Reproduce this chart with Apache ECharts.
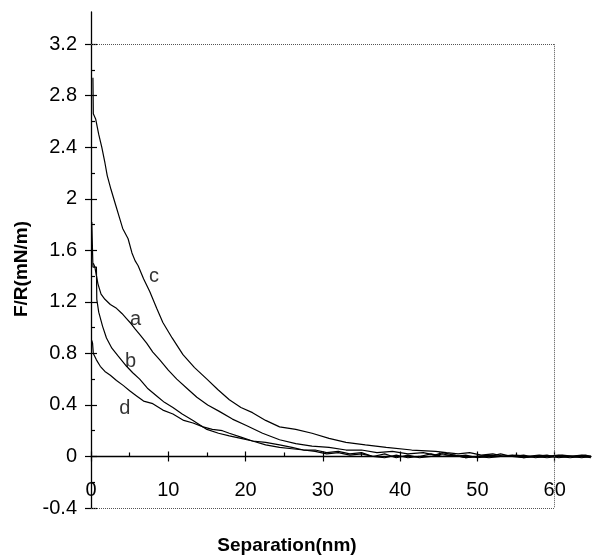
<!DOCTYPE html>
<html><head><meta charset="utf-8">
<script src="https://cdn.jsdelivr.net/npm/echarts@6/dist/echarts.min.js"></script>
<style>html,body{margin:0;padding:0;background:#fff}#c{width:592px;height:559px}</style>
</head><body><div id="c"></div><script>
// ---- data ----
const curveA = [[0.3,1.50],[0.5,1.47],[0.9,1.34],[1.3,1.26],[1.8,1.22],[2.5,1.18],[3.3,1.15],[4.0,1.11],[4.6,1.07],[5.2,1.03],[5.7,0.99],[6.4,0.94],[7.2,0.88],[8.0,0.81],[8.9,0.75],[10.0,0.67],[11.1,0.60],[12.4,0.53],[13.7,0.46],[15.1,0.40],[16.6,0.35],[18.3,0.29],[20.1,0.24],[22.2,0.18],[24.4,0.13],[26.5,0.10],[28.6,0.08],[30.8,0.07],[33.0,0.05],[35.0,0.05],[37.0,0.03],[39.0,0.04],[41.0,0.02],[43.0,0.03],[44.5,0.01],[45.5,0.03],[47.0,0.01],[48.5,-0.01],[50.0,0.00],[51.5,0.01],[53.0,0.00],[54.5,0.01],[56.0,-0.01],[57.5,0.00],[59.0,0.01],[60.5,-0.01],[62.0,0.00],[63.5,0.01],[64.7,0.00]];
const curveB = [[0.1,1.82],[0.25,1.47],[0.7,1.47],[0.75,1.22],[1.0,1.12],[1.5,1.01],[2.0,0.92],[2.7,0.84],[3.5,0.78],[4.6,0.70],[5.4,0.65],[6.3,0.60],[7.3,0.53],[8.5,0.47],[9.5,0.42],[10.6,0.38],[11.8,0.33],[13.2,0.28],[15.0,0.21],[16.5,0.18],[17.9,0.16],[19.4,0.14],[20.9,0.12],[22.6,0.09],[24.4,0.07],[26.0,0.06],[27.5,0.05],[29.0,0.05],[30.5,0.03],[32.0,0.04],[33.5,0.02],[35.0,0.03],[36.5,0.00],[38.0,-0.01],[39.5,0.01],[41.0,-0.01],[42.5,0.00],[44.0,0.02],[45.5,0.00],[47.0,0.01],[48.5,-0.01],[50.0,0.00],[51.5,-0.01],[53.0,0.00],[54.5,0.00],[56.0,-0.01],[57.5,0.00],[59.0,-0.01],[60.5,0.00],[62.0,-0.01],[63.5,0.00],[64.7,-0.01]];
const curveC = [[0.25,2.94],[0.3,2.66],[0.6,2.62],[1.0,2.50],[1.4,2.40],[1.8,2.28],[2.1,2.18],[2.6,2.07],[3.2,1.95],[3.7,1.85],[4.1,1.77],[4.8,1.69],[5.3,1.58],[5.7,1.52],[6.1,1.48],[6.8,1.38],[7.6,1.28],[8.5,1.15],[9.3,1.04],[10.5,0.92],[11.9,0.79],[13.4,0.69],[15.0,0.60],[16.4,0.52],[17.9,0.44],[19.4,0.38],[20.9,0.34],[22.6,0.28],[24.4,0.23],[26.5,0.21],[28.6,0.18],[30.8,0.14],[33.0,0.11],[35.5,0.09],[38.2,0.07],[41.5,0.05],[44.6,0.04],[46.0,0.03],[47.5,0.02],[49.0,0.03],[50.5,0.01],[52.0,0.02],[53.5,0.00],[55.0,0.01],[56.5,0.00],[58.0,0.01],[59.5,0.00],[61.0,0.01],[62.5,0.00],[64.0,0.01],[64.7,0.00]];
const curveD = [[0.1,0.90],[0.2,0.88],[0.3,0.80],[0.7,0.75],[1.2,0.70],[1.8,0.66],[2.5,0.63],[3.3,0.59],[4.2,0.55],[5.0,0.51],[5.9,0.47],[6.8,0.43],[8.0,0.41],[9.3,0.36],[10.6,0.33],[12.0,0.28],[13.2,0.26],[14.5,0.23],[15.7,0.21],[17.0,0.20],[17.9,0.18],[19.4,0.15],[20.9,0.12],[22.6,0.11],[24.4,0.09],[26.0,0.07],[27.5,0.05],[29.0,0.04],[30.5,0.02],[32.0,0.03],[33.5,0.01],[35.0,0.02],[36.5,0.00],[38.0,0.02],[39.5,-0.01],[41.0,0.01],[42.5,-0.01],[44.0,0.00],[45.5,0.02],[47.0,0.00],[48.5,0.01],[50.0,-0.01],[51.5,0.00],[53.0,0.02],[54.5,0.00],[56.0,0.01],[57.5,-0.01],[59.0,0.00],[60.5,0.01],[62.0,0.00],[63.5,-0.01],[64.7,0.00]];
const curveNames = ['a', 'b', 'c', 'd'];
const labelX = [5.77, 5.12, 8.14, 4.39];
const labelY = [1.06, 0.74, 1.395, 0.375];
const xMajor = [0, 10, 20, 30, 40, 50, 60];
const xMinor = [5, 15, 25, 35, 45, 55];
const yMajor = [-0.4, 0, 0.4, 0.8, 1.2, 1.6, 2, 2.4, 2.8, 3.2];
const yMinor = [-0.2, 0.2, 0.6, 1.0, 1.4, 1.8, 2.2, 2.6, 3.0];
const frameX = [0, 60];
const frameY = [-0.4, 3.2];
const xRange = [0, 64.7];
const yRange = [-0.4, 3.45];

// ---- chart ----
const FONT = 'Liberation Sans, Arial, sans-serif';
const chart = echarts.init(document.getElementById('c'), null, {renderer: 'canvas'});
const fmt = v => String(Math.round(v * 10) / 10);
const baseX = {type: 'value', min: xRange[0], max: xRange[1], position: 'bottom', splitLine: {show: false}};
const baseY = {type: 'value', min: yRange[0], max: yRange[1], position: 'left', splitLine: {show: false}};
const black = {color: '#000', width: 1.2};

const option = {
  animation: false,
  backgroundColor: '#fff',
  grid: {left: 91, right: 1, top: 12, bottom: 51, containLabel: false, outerBoundsMode: 'none'},
  xAxis: [
    Object.assign({}, baseX, {
      axisLine: {show: true, onZero: true, lineStyle: {color: '#000', width: 1.3}},
      axisTick: {show: true, inside: true, length: 5, customValues: xMajor, lineStyle: black},
      axisLabel: {show: true, customValues: xMajor, margin: -28, fontSize: 20, color: '#000', fontFamily: FONT, formatter: fmt},
      name: 'Separation(nm)', nameLocation: 'middle', nameGap: 28,
      nameTextStyle: {fontSize: 19, fontWeight: 'bold', color: '#000', fontFamily: FONT, padding: [0, 108, 0, 0]}
    }),
    Object.assign({}, baseX, {
      axisLine: {show: false, onZero: true},
      axisTick: {show: true, inside: false, length: 5, customValues: xMajor, lineStyle: black},
      axisLabel: {show: false}
    }),
    Object.assign({}, baseX, {
      axisLine: {show: false, onZero: true},
      axisTick: {show: true, inside: true, length: 4, customValues: xMinor, lineStyle: black},
      axisLabel: {show: false}
    })
  ],
  yAxis: [
    Object.assign({}, baseY, {
      axisLine: {show: true, onZero: false, lineStyle: {color: '#000', width: 1.3}},
      axisTick: {show: true, inside: true, length: 6, customValues: yMajor, lineStyle: black},
      axisLabel: {show: true, customValues: yMajor, margin: 14, fontSize: 20, color: '#000', fontFamily: FONT, formatter: fmt},
      name: 'F/R(mN/m)', nameLocation: 'middle', nameGap: 54, nameRotate: 90,
      nameTextStyle: {fontSize: 19, fontWeight: 'bold', color: '#000', fontFamily: FONT, padding: [0, 18, 0, 0]}
    }),
    Object.assign({}, baseY, {
      axisLine: {show: false, onZero: false},
      axisTick: {show: true, inside: false, length: 6, customValues: yMajor, lineStyle: black},
      axisLabel: {show: false}
    }),
    Object.assign({}, baseY, {
      axisLine: {show: false, onZero: false},
      axisTick: {show: true, inside: true, length: 4, customValues: yMinor, lineStyle: black},
      axisLabel: {show: false}
    })
  ],
  series: [
    ...[curveA, curveB, curveC, curveD].map((d, i) => ({
      name: curveNames[i], type: 'line', data: d, showSymbol: false, symbol: 'none',
      lineStyle: {color: '#000', width: 1.2}, z: 3,
      markLine: i === 2 ? {
        silent: true, symbol: 'none', label: {show: false},
        lineStyle: {type: 'dotted', color: '#555', width: 1},
        data: [
          [{coord: [frameX[0], frameY[1]]}, {coord: [frameX[1], frameY[1]]}],
          [{coord: [frameX[1], frameY[1]]}, {coord: [frameX[1], frameY[0]]}],
          [{coord: [frameX[0], frameY[0]]}, {coord: [frameX[1], frameY[0]]}]
        ]
      } : undefined
    })),
    {
      type: 'scatter', symbolSize: 1, itemStyle: {color: 'rgba(0,0,0,0)'},
      data: curveNames.map((n, i) => ({name: n, value: [labelX[i], labelY[i]]})),
      label: {show: true, position: 'inside', formatter: p => p.name, fontSize: 20, color: '#000', fontFamily: FONT},
      z: 5
    }
  ]
};
chart.setOption(option);
</script></body></html>
